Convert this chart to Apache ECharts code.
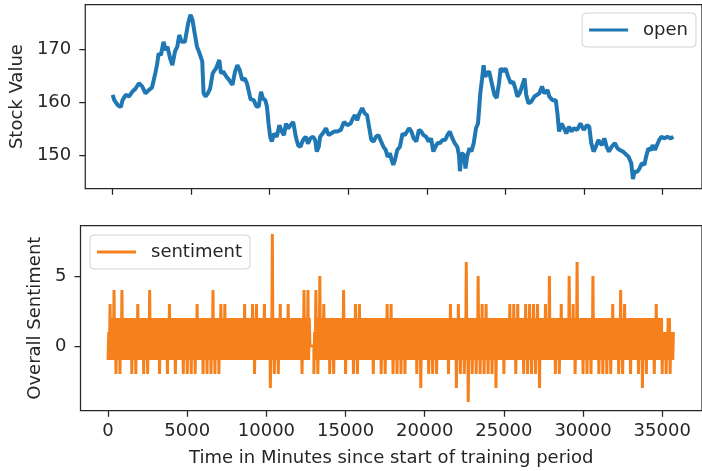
<!DOCTYPE html>
<html><head><meta charset="utf-8">
<script src="https://cdn.jsdelivr.net/npm/echarts@6/dist/echarts.min.js"></script>
<style>html,body{margin:0;padding:0;background:#fff}#c{width:702px;height:471px}</style>
</head><body><div id="c"></div>
<script>
// ---- data ----
const openTimes = [0,106,315,524,629,838,1047,1255,1464,1673,1882,2091,2300,2509,2718,2822,2927,3073,3240,3386,3491,3658,3804,3971,4117,4243,4389,4598,4807,4953,5078,5224,5370,5537,5704,5788,5913,6059,6205,6372,6581,6790,6894,7041,7249,7417,7626,7793,7939,8086,8253,8420,8566,8775,
8986,9153,9299,9445,9571,9717,9822,9926,10030,10135,10281,10448,10615,10761,10908,11033,11179,11326,11493,11660,11806,11952,12119,12286,12433,12579,12746,12892,12997,13122,13206,13373,13582,13749,13895,14104,14313,14522,14731,14940,15148,15295,15420,15566,15713,15880,16047,16193,16339,16465,16611,16757,16924,17091,17238,17384,17509,17655,17760,17864,
17970,18117,18284,18451,18597,18743,18869,19015,19161,19328,19495,19642,19788,19955,20122,20268,20415,20540,20686,20833,21000,21167,21313,21459,21626,21772,21940,22044,22107,22211,22357,22462,22566,22712,22838,22984,23130,23256,23402,23506,23611,23715,23820,23966,24133,24300,24446,24593,24697,24864,25010,25177,25344,25490,25637,25762,25908,26054,26222,26326,26472,26640,26849,
26955,27164,27331,27477,27686,27790,27999,28208,28313,28417,28584,28730,28877,29044,29211,29357,29566,29775,29984,30193,30339,30464,30611,30757,30924,31133,31300,31446,31593,31760,31969,32136,32282,32491,32700,32846,33013,33117,33222,33389,33535,33681,33848,33953,34099,34266,34371,34517,34643,34789,34935,35102,35311,35520,35687];
const openValues = [161.4,160.4,159.5,159.1,160.4,161.4,161.1,162.0,162.6,163.6,163.0,161.7,162.3,162.8,165.5,167.0,169.2,168.9,171.4,169.8,170.5,168.3,167.0,169.6,170.5,172.7,171.4,171.4,174.9,176.5,175.6,173.0,170.5,169.2,167.7,161.7,161.1,161.7,162.6,165.5,166.4,168.0,165.5,165.8,164.8,164.2,163.3,165.8,167.0,166.1,164.2,164.5,163.4,160.6,
160.4,159.2,159.2,162.0,160.7,160.4,159.2,156.0,153.5,152.6,154.1,153.5,155.7,154.5,153.8,156.0,155.1,155.7,156.3,153.5,151.9,151.6,152.9,153.5,152.2,153.2,153.5,152.9,150.7,151.6,153.5,154.1,155.1,153.8,154.1,154.5,154.5,154.8,156.3,155.7,156.0,157.0,157.6,156.6,157.9,158.9,157.9,157.6,155.1,152.9,152.6,153.5,153.8,152.6,151.6,151.0,149.7,150.4,149.1,148.2,
149.1,151.0,151.6,154.1,153.8,154.5,155.1,154.5,153.2,152.6,154.8,154.5,153.8,153.5,152.6,153.2,150.7,151.6,152.3,152.3,152.9,152.9,153.8,154.5,153.2,152.3,151.6,150.1,147.0,150.4,150.1,147.5,149.8,151.3,150.7,152.3,155.1,156.0,161.7,164.2,167.0,164.8,165.5,165.8,163.6,161.4,160.8,163.6,166.4,165.8,166.4,164.8,163.6,163.9,162.6,161.1,161.7,163.0,164.5,161.4,159.8,160.1,161.1,
160.8,161.7,163.0,161.7,162.3,161.1,160.4,160.4,157.9,154.5,156.0,155.1,154.1,155.4,154.5,155.1,154.8,156.0,154.8,155.7,155.4,152.3,150.7,151.6,152.9,151.9,153.2,151.6,150.7,151.6,152.3,151.3,151.0,150.7,150.1,149.7,148.5,145.5,146.9,146.9,147.5,148.5,148.2,149.7,151.3,151.0,151.9,151.0,151.3,152.9,153.5,153.2,153.5,153.2,153.5];

// sentiment: per 250-minute bin, highest and lowest value seen in the picture
const sentBinMinutes = 250;
const sentHi = [3,4,2,4,2,2,2,3,2,2,4,2,2,2,2,3,2,2,2,2,
2,2,3,2,2,2,4,2,3,3,2,2,2,2,3,2,3,3,2,3,
2,8,2,3,2,3,2,2,2,4,4,0,4,5,3,2,2,2,2,4,
2,2,3,3,2,2,2,2,2,2,3,3,2,2,2,2,2,2,2,2,
2,2,2,2,2,2,3,2,3,2,6,2,2,5,3,3,2,2,2,2,
2,3,3,3,2,3,3,3,3,2,3,5,2,2,3,2,5,3,6,2,
2,2,5,2,2,2,2,3,2,4,3,2,2,2,2,2,2,2,3,2,
1,2,1];
const sentLo = [-1,-1,-2,-2,-1,-1,-2,-2,-1,-2,-2,-1,-1,-2,-1,-2,-1,-2,-1,-2,
-2,-2,-2,-1,-2,-2,-2,-2,-2,-1,-1,-1,-1,-1,-1,-1,-1,-2,-1,-1,
-1,-3,-2,-2,-1,-1,-1,-1,-1,-2,-1,0,-2,-2,-1,-1,-2,-2,-1,-1,
-2,-1,-2,-2,-1,-1,-1,-2,-1,-2,-2,-1,-2,-2,-2,-2,-1,-1,-2,-3,
-1,-2,-2,-2,-1,-1,-2,-1,-3,-2,-2,-4,-2,-2,-2,-2,-2,-2,-3,-1,
-2,-1,-1,-2,-1,-2,-2,-2,-2,-3,-1,-1,-1,-2,-2,-1,-1,-1,-2,-1,
-2,-2,-2,-1,-2,-2,-2,-2,-1,-2,-2,-1,-2,-1,-2,-3,-2,-1,-2,-1,
-2,-2,-2];
const sentBandTop = 1;      // the solid core of the band
const sentBandBottom = -1;
const sentCommonHigh = 2;   // level reached very often between the spikes

const xTicks = [0,5000,10000,15000,20000,25000,30000,35000];
const openTicks = [150,160,170];
const sentTicks = [0,5];

// ---- build series ----
const openData = openTimes.map((t, i) => [t, openValues[i]]);
const sentData = [];
sentHi.forEach((hi, i) => {
  const x0 = i * sentBinMinutes, lo = sentLo[i], w = sentBinMinutes / 6;
  if (hi === 0 && lo === 0) {
    sentData.push([x0, 0], [x0 + sentBinMinutes, 0]);
  } else {
    const second = hi >= sentCommonHigh ? sentCommonHigh : sentBandTop;
    sentData.push([x0, lo], [x0 + w, sentBandTop], [x0 + 2 * w, sentBandBottom],
                  [x0 + 3 * w, hi], [x0 + 4 * w, sentBandBottom], [x0 + 5 * w, second]);
  }
});

const ink = '#262626';
const fam = 'DejaVu Sans';
const fs = 18;
function xAxis(gi, labels) {
  return {
    type: 'value', gridIndex: gi, min: -1742, max: 37514,
    axisLine: { show: false, onZero: false },
    splitLine: { show: false },
    axisTick: { show: true, inside: false, length: 6, customValues: xTicks, lineStyle: { color: ink, width: 1.25 } },
    axisLabel: { show: labels, customValues: xTicks, margin: 12, fontSize: fs, color: ink, fontFamily: fam, formatter: v => String(v) },
    name: labels ? 'Time in Minutes since start of training period' : '',
    nameLocation: 'middle', nameGap: 39,
    nameTextStyle: { fontSize: fs, color: ink, fontFamily: fam }
  };
}
function yAxis(gi, min, max, ticks, name, gap) {
  return {
    type: 'value', gridIndex: gi, min: min, max: max,
    axisLine: { show: false, onZero: false },
    splitLine: { show: false },
    axisTick: { show: true, inside: false, length: 6, customValues: ticks, lineStyle: { color: ink, width: 1.25 } },
    axisLabel: { customValues: ticks, margin: 14, fontSize: fs, color: ink, fontFamily: fam, formatter: v => String(v) },
    name: name, nameLocation: 'middle', nameGap: gap,
    nameTextStyle: { fontSize: fs, color: ink, fontFamily: fam }
  };
}
const legendCommon = {
  orient: 'horizontal', backgroundColor: '#ffffff', borderColor: '#d3d3d3', borderWidth: 1, borderRadius: 4,
  padding: [8, 8, 8, 7], itemWidth: 39, itemHeight: 3,
  textStyle: { fontSize: fs, color: ink, fontFamily: fam, padding: [0, 0, 0, 10], lineHeight: 18 }
};

const chart = echarts.init(document.getElementById('c'), null, { renderer: 'canvas' });
chart.setOption({
  animation: false,
  backgroundColor: '#ffffff',
  grid: [
    { left: 80.5, right: -4.8, top: 4.5, height: 184.2, show: true, borderColor: ink, borderWidth: 1.25, containLabel: false },
    { left: 80.5, right: -4.8, top: 225.7, height: 185, show: true, borderColor: ink, borderWidth: 1.25, containLabel: false }
  ],
  xAxis: [xAxis(0, false), xAxis(1, true)],
  yAxis: [yAxis(0, 143.70, 178.45, openTicks, 'Stock Value', 56), yAxis(1, -4.621, 8.593, sentTicks, 'Overall Sentiment', 25)],
  legend: [
    Object.assign({}, legendCommon, { data: [{ name: 'open', icon: 'rect' }], right: 6, top: 13 }),
    Object.assign({}, legendCommon, { data: [{ name: 'sentiment', icon: 'rect' }], left: 90, top: 235 })
  ],
  series: [
    { name: 'open', type: 'line', xAxisIndex: 0, yAxisIndex: 0, data: openData, symbol: 'none', showSymbol: false,
      lineStyle: { color: '#1f77b4', width: 4 }, itemStyle: { color: '#1f77b4' }, silent: true },
    { name: 'sentiment', type: 'line', xAxisIndex: 1, yAxisIndex: 1, data: sentData, symbol: 'none', showSymbol: false,
      lineStyle: { color: '#f6811c', width: 3 }, itemStyle: { color: '#f6811c' }, silent: true }
  ]
});
</script></body></html>
